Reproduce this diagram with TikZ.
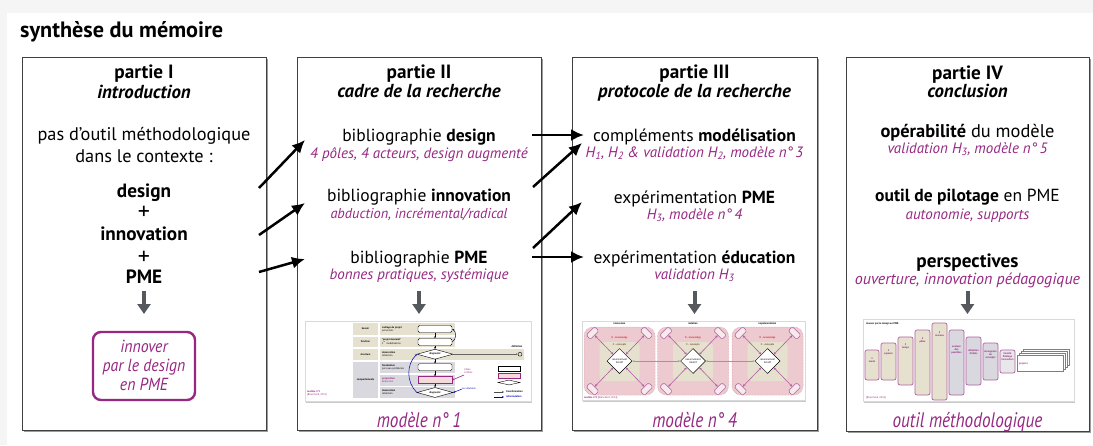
\documentclass[tikz,border=0pt]{standalone}
\usepackage{fontspec}
\setmainfont{PT Sans}
\newfontfamily\capfont{PT Sans}[FakeStretch=0.82]
\newfontfamily\boxfont{PT Sans}[FakeStretch=0.9]
\usetikzlibrary{arrows.meta,shapes.geometric,shadows}
\definecolor{mag}{RGB}{150,40,130}
\definecolor{beige}{RGB}{230,225,207}
\definecolor{lgray}{RGB}{216,216,222}
\definecolor{pinkbg}{RGB}{236,202,207}
\definecolor{pinkline}{RGB}{214,150,165}
\definecolor{arrgray}{RGB}{85,88,92}
\definecolor{thmag}{RGB}{176,96,160}
\definecolor{kred}{RGB}{225,50,40}
\definecolor{cbrown}{RGB}{120,90,40}
\begin{document}
\begin{tikzpicture}[x=1pt,y=-1pt,
  panel/.style={draw=black!75,fill=white,line width=0.8pt,inner sep=0pt,anchor=north west,
    drop shadow={shadow xshift=2pt,shadow yshift=-2pt,opacity=0.55,fill=black!70}},
  hd/.style={anchor=base,inner sep=0pt,font=\fontsize{19.2}{21}\selectfont\bfseries},
  hdi/.style={anchor=base,inner sep=0pt,font=\fontsize{18.8}{21}\selectfont\bfseries\itshape},
  body/.style={anchor=base,inner sep=0pt,font=\fontsize{17.5}{20}\selectfont},
  plus/.style={anchor=base,inner sep=0pt,font=\fontsize{24}{26}\selectfont},
  sub/.style={anchor=base,inner sep=0pt,text=mag,font=\fontsize{15}{17}\selectfont\itshape},
  capt/.style={anchor=base,inner sep=0pt,text=mag,font=\capfont\fontsize{21}{23}\selectfont\itshape},
  boxt/.style={anchor=base,inner sep=0pt,text=mag,font=\boxfont\fontsize{17.5}{19}\selectfont\itshape},
  link/.style={line width=2.5pt,-{Latex[length=13pt,width=12pt]}},
  down/.style={arrgray,line width=4pt,-{Triangle[length=10pt,width=13pt]}},
  tiny/.style={inner sep=0pt,font=\fontsize{2.6}{3}\selectfont},
  card/.style={fill=white,draw=black!15,line width=0.4pt,inner sep=0pt,anchor=north west,
    drop shadow={shadow xshift=1pt,shadow yshift=-1.5pt,opacity=0.35,fill=black!60}},
  sm/.style={-{Stealth[length=2pt,width=1.8pt]},line width=0.35pt},
  col/.style={draw=thmag,line width=0.7pt,rounded corners=2pt,inner sep=0pt},
]
% page background
\fill[black!4] (0,0) rectangle (1093,445);
\fill[white] (7,13) rectangle (1093,445);
\useasboundingbox (0,0) rectangle (1093,445);

% title
\node[anchor=base west,inner sep=0pt,font=\fontsize{22.2}{25}\selectfont\bfseries] (title) at (20,37) {synthèse du mémoire};

% panels
\node[panel,minimum width=244pt,minimum height=373pt] (P1) at (22,57) {};
\node[panel,minimum width=244pt,minimum height=373pt] (P2) at (297,57) {};
\node[panel,minimum width=245pt,minimum height=373pt] (P3) at (572,57) {};
\node[panel,minimum width=243pt,minimum height=374pt] (P4) at (846,57) {};

% ---------- panel I
\node[hd] (p1a) at (144,78) {partie I};
\node[hdi] (p1b) at (144,98) {introduction};
\node[body,font=\fontsize{18.3}{20}\selectfont] (p1c) at (144,140) {pas d’outil méthodologique};
\node[body,font=\fontsize{18.3}{20}\selectfont] (p1d) at (144,162) {dans le contexte :};
\node[hd] (p1e) at (144,197) {design};
\node[plus] (p1f) at (144,219) {+};
\node[hd] (p1g) at (144,240) {innovation};
\node[plus] (p1h) at (144,264) {+};
\node[hd] (p1i) at (144,283) {PME};
\coordinate (d1s) at (144,291);
\coordinate (d1e) at (144,314);
\draw[down] (d1s) -- (d1e);
\node[draw=mag,line width=2.4pt,rounded corners=8pt,minimum width=102pt,minimum height=68pt,inner sep=0pt] (p1box) at (144,366) {};
\node[boxt] (p1j) at (144,352) {innover};
\node[boxt] (p1k) at (144,371) {par le design};
\node[boxt] (p1l) at (144,390) {en PME};

% ---------- panel II
\node[hd] (p2a) at (419,78) {partie II};
\node[hdi] (p2b) at (419,97) {cadre de la recherche};
\node[body] (p2c) at (419,141) {bibliographie \textbf{design}};
\node[sub] (p2d) at (419,158) {4 pôles, 4 acteurs, design augmenté};
\node[body] (p2e) at (419,201) {bibliographie \textbf{innovation}};
\node[sub,font=\fontsize{14.3}{17}\selectfont\itshape] (p2f) at (419,218) {abduction, incrémental/radical};
\node[body] (p2g) at (419,263) {bibliographie \textbf{PME}};
\node[sub] (p2h) at (419,279) {bonnes pratiques, systémique};
\coordinate (d2s) at (419,291);
\coordinate (d2e) at (419,314);
\draw[down] (d2s) -- (d2e);
\node[capt] (p2cap) at (419,427) {modèle n°\,1};

% ---------- panel III
\node[hd] (p3a) at (694.5,78) {partie III};
\node[hdi] (p3b) at (694.5,97) {protocole de la recherche};
\node[body] (p3c) at (694.5,141) {compléments \textbf{modélisation}};
\node[sub] (p3d) at (694.5,157) {H\textsubscript{1}, H\textsubscript{2} \& validation H\textsubscript{2}, modèle n°\,3};
\node[body] (p3e) at (694.5,203) {expérimentation \textbf{PME}};
\node[sub] (p3f) at (694.5,219) {H\textsubscript{3}, modèle n°\,4};
\node[body] (p3g) at (694.5,263) {expérimentation \textbf{éducation}};
\node[sub] (p3h) at (694.5,279) {validation H\textsubscript{3}};
\coordinate (d3s) at (694.5,291);
\coordinate (d3e) at (694.5,314);
\draw[down] (d3s) -- (d3e);
\node[capt] (p3cap) at (694.5,427) {modèle n°\,4};

% ---------- panel IV
\node[hd] (p4a) at (967.5,79) {partie IV};
\node[hdi] (p4b) at (967.5,97) {conclusion};
\node[body,font=\fontsize{18.4}{20}\selectfont] (p4c) at (967.5,137) {\textbf{opérabilité} du modèle};
\node[sub] (p4d) at (967.5,153) {validation H\textsubscript{3}, modèle n°\,5};
\node[body] (p4e) at (967.5,201) {\textbf{outil de pilotage} en PME};
\node[sub] (p4f) at (967.5,219) {autonomie, supports};
\node[hd] (p4g) at (967.5,267) {perspectives};
\node[sub,font=\fontsize{16}{17}\selectfont\itshape] (p4h) at (967.5,284) {ouverture, innovation pédagogique};
\coordinate (d4s) at (967.5,291);
\coordinate (d4e) at (967.5,314);
\draw[down] (d4s) -- (d4e);
\node[capt] (p4cap) at (967.5,427) {outil méthodologique};

% ---------- links
\coordinate (a1s) at (259,188); \coordinate (a1e) at (305,140);
\coordinate (a2s) at (259,235); \coordinate (a2e) at (305,203);
\coordinate (a3s) at (259,272); \coordinate (a3e) at (305,259);
\draw[link] (a1s) -- (a1e);
\draw[link] (a2s) -- (a2e);
\draw[link] (a3s) -- (a3e);
\coordinate (b1s) at (532,135); \coordinate (b1e) at (584,135);
\coordinate (b2s) at (533,187); \coordinate (b2e) at (582,143);
\coordinate (b3s) at (533,248); \coordinate (b3e) at (582,202);
\coordinate (b4s) at (532,257); \coordinate (b4e) at (584,257);
\draw[link] (b1s) -- (b1e);
\draw[link] (b2s) -- (b2e);
\draw[link] (b3s) -- (b3e);
\draw[link] (b4s) -- (b4e);

% ---------- thumbnail 1 : modele n 1
\node[card,minimum width=226pt,minimum height=80pt] (T1) at (305,321) {};
\fill[beige] (353,323) rectangle (378,335);
\fill[beige] (353,336.5) rectangle (378,347);
\fill[beige] (353,348.5) rectangle (378,360);
\fill[lgray] (353,361.5) rectangle (378,398);
\fill[beige] (380,323) rectangle (455,335);
\fill[beige] (380,336.5) rectangle (455,347);
\fill[beige] (380,348.5) rectangle (524,360);
\fill[lgray] (380,361.5) rectangle (455,373);
\fill[lgray] (380,374.5) rectangle (455,385.5);
\fill[lgray] (380,387) rectangle (455,398);
\node[tiny] (t1a) at (365.5,329) {\bfseries besoin};
\node[tiny] (t1b) at (365.5,341.7) {\bfseries fonction};
\node[tiny] (t1c) at (365.5,354.2) {\bfseries structure};
\node[tiny] (t1d) at (365.5,379.7) {\bfseries comportements};
\node[tiny,anchor=west,align=left] (t1e) at (382,329) {\bfseries cadrage du projet\\{}prévisions};
\node[tiny,anchor=west,align=left] (t1f) at (382,341.7) {\bfseries “projet maximal”\\{}1\textsuperscript{re} modélisation};
\node[tiny,anchor=west,align=left] (t1g) at (382,354.2) {\bfseries observation\\{}détection};
\node[tiny,anchor=west,align=left] (t1h) at (382,367.2) {\bfseries focalisation\\{}par sous-problèmes};
\node[tiny,anchor=west,align=left,text=mag] (t1i) at (382,380) {\bfseries proposition\\{}abduction};
\node[tiny,anchor=west,align=left] (t1j) at (382,392.5) {\bfseries observation\\{}détection};
\node[draw,fill=white,rounded corners=1.5pt,minimum width=34pt,minimum height=7pt,inner sep=0pt,line width=0.4pt] (m1) at (435,329) {};
\node[draw,fill=white,rounded corners=1.5pt,minimum width=34pt,minimum height=7pt,inner sep=0pt,line width=0.4pt] (m2) at (435,342) {};
\node[draw,fill=white,diamond,aspect=3.6,minimum width=36pt,minimum height=10pt,inner sep=0pt,line width=0.4pt] (m3) at (435,354.2) {};
\node[draw,fill=white,rounded corners=1.5pt,minimum width=34pt,minimum height=7pt,inner sep=0pt,line width=0.4pt] (m4) at (435,367.2) {};
\node[draw=mag,fill=pinkbg!70,minimum width=34pt,minimum height=7pt,inner sep=0pt,line width=0.5pt] (m5) at (435,380) {};
\node[draw,fill=white,diamond,aspect=3.6,minimum width=36pt,minimum height=10pt,inner sep=0pt,line width=0.4pt] (m6) at (435,392.5) {};
\node[tiny] (m3t) at (435,354.2) {\bfseries diagnostic};
\node[tiny] (m6t) at (435,392.5) {\bfseries diagnostic};
\draw[sm] (m1) -- (m2);
\draw[sm] (m2) -- (m3);
\draw[sm] (m3) -- (m4);
\draw[sm] (m4) -- (m5);
\draw[sm] (m5) -- (m6);
\draw[sm,blue!70!black,line width=0.5pt] (m6.west) to[bend left=45] (m3.west);
\draw[sm,blue!70!black,line width=0.5pt] (m2.east) to[bend right=60] (m1.east);
\coordinate (bl1) at (462,389);
\draw[sm,blue!70!black,line width=0.5pt] (bl1) -- (m6.east);
\node[tiny,anchor=west,text=blue!70!black] (bl1t) at (462,389) {ou solutions};
\coordinate (mg1) at (464,375);
\draw[sm,mag,line width=0.6pt] (mg1) -- (m5.east);
\node[tiny,anchor=south west,text=mag,align=left] (mg1t) at (464,374) {cibles\\{}critères};
\node[draw,circle,minimum size=4pt,inner sep=0pt,line width=0.4pt] (c0) at (520,354.2) {};
\draw[sm,black!60] (m3.east) -- (c0.west);
\node[tiny] (c0t) at (517,347) {\bfseries définition};
\node[draw,fill=white,minimum width=22pt,minimum height=4.5pt,inner sep=0pt,line width=0.4pt] (lg1) at (509,368.5) {};
\node[draw=mag,fill=pinkbg!70,minimum width=22pt,minimum height=4.5pt,inner sep=0pt,line width=0.4pt] (lg2) at (509,375.5) {};
\node[draw,fill=white,diamond,aspect=4,minimum width=22pt,minimum height=5pt,inner sep=0pt,line width=0.4pt] (lg3) at (509,382.5) {};
\coordinate (lga1) at (494,392); \coordinate (lga2) at (504,392);
\coordinate (lgb1) at (494,397); \coordinate (lgb2) at (504,397);
\draw[sm,black!70] (lga1) -- (lga2);
\draw[sm,blue!70!black] (lgb1) -- (lgb2);
\node[tiny,anchor=west] (lgat) at (506,392) {\bfseries transformation};
\node[tiny,anchor=west,text=blue!70!black] (lgbt) at (506,397) {\bfseries reformulation};
\node[tiny,anchor=west,text=mag,align=left] (t1n) at (307,393.5) {\bfseries modèle n°1\\{}[Blanchard, 2011]};

% ---------- thumbnail 2 : modele n 4
\node[card,minimum width=223pt,minimum height=79pt] (T2) at (582,321) {};
\foreach \i/\cx/\lab in {1/619.5/immersion,2/693/idéation,3/767.5/implémentation}{
  \node[fill=pinkbg,draw=pinkline,densely dotted,line width=0.5pt,rounded corners=9pt,minimum width=71pt,minimum height=68pt,inner sep=0pt] (sq\i) at (\cx,361) {};
  \node[fill=beige,rounded corners=4pt,minimum width=40pt,minimum height=39pt,inner sep=0pt] (in\i) at (\cx,361.5) {};
  \node[tiny] (lab\i) at (\cx,324) {\bfseries \lab};
  \node[tiny,text=kred] (kk\i) at (\cx,338) {\bfseries K - knowledge};
  \node[tiny,text=cbrown] (cc\i) at (\cx,344.5) {\bfseries C - concepts};
  \node[diamond,draw,fill=white,minimum width=25pt,minimum height=25pt,inner sep=0pt,line width=0.5pt] (dm\i) at (\cx,361) {};
  \node[tiny,align=center] (dmt\i) at (\cx,361) {raisonnement\\{}itératif};
  \node[draw=thmag,fill=pinkbg!40,rounded corners=1.5pt,minimum width=12pt,minimum height=6pt,inner sep=0pt,rotate=45,line width=0.6pt] (pa\i) at (\cx-27,333) {};
  \node[draw=thmag,fill=pinkbg!40,rounded corners=1.5pt,minimum width=12pt,minimum height=6pt,inner sep=0pt,rotate=-45,line width=0.6pt] (pb\i) at (\cx+27,333) {};
  \node[draw=thmag,fill=pinkbg!40,rounded corners=1.5pt,minimum width=12pt,minimum height=6pt,inner sep=0pt,rotate=-45,line width=0.6pt] (pc\i) at (\cx-27,389) {};
  \node[draw=thmag,fill=pinkbg!40,rounded corners=1.5pt,minimum width=12pt,minimum height=6pt,inner sep=0pt,rotate=45,line width=0.6pt] (pd\i) at (\cx+27,389) {};
  \draw[thmag,line width=0.6pt,{Stealth[length=2.5pt,width=2.5pt]}-{Stealth[length=2.5pt,width=2.5pt]}] (dm\i) -- (pa\i);
  \draw[thmag,line width=0.6pt,{Stealth[length=2.5pt,width=2.5pt]}-{Stealth[length=2.5pt,width=2.5pt]}] (dm\i) -- (pb\i);
  \draw[thmag,line width=0.6pt,{Stealth[length=2.5pt,width=2.5pt]}-{Stealth[length=2.5pt,width=2.5pt]}] (dm\i) -- (pc\i);
  \draw[thmag,line width=0.6pt,{Stealth[length=2.5pt,width=2.5pt]}-{Stealth[length=2.5pt,width=2.5pt]}] (dm\i) -- (pd\i);
}
\draw[black!40,line width=0.6pt,{Stealth[length=2.2pt]}-{Stealth[length=2.2pt]}] (dm1.east) -- (dm2.west);
\draw[black!40,line width=0.6pt,{Stealth[length=2.2pt]}-{Stealth[length=2.2pt]}] (dm2.east) -- (dm3.west);
\node[tiny,anchor=west,text=mag] (t2n) at (584,397.8) {\bfseries modèle n°4 \mdseries [Blanchard, 2014]};

% ---------- thumbnail 3 : outil methodologique
\node[card,minimum width=211pt,minimum height=82pt] (T3) at (863,319) {};
\node[tiny,anchor=west] (t3t) at (866,323.5) {\bfseries innover par le design en PME};
\node[col,fill=beige,minimum width=14pt,minimum height=30pt] (k1) at (872,365) {};
\node[col,fill=beige,minimum width=15pt,minimum height=37pt] (k2) at (888.5,361.5) {};
\node[col,fill=beige,minimum width=15pt,minimum height=48pt] (k3) at (905.5,361) {};
\node[col,fill=beige,minimum width=15pt,minimum height=65pt] (k4) at (922.5,362.5) {};
\node[col,fill=beige,minimum width=15pt,minimum height=77pt] (k5) at (939.5,361.5) {};
\node[col,fill=lgray,minimum width=15pt,minimum height=65pt] (k6) at (956.5,362.5) {};
\node[col,fill=lgray,minimum width=15pt,minimum height=48pt] (k7) at (973.5,361) {};
\node[col,fill=lgray,minimum width=15pt,minimum height=37pt] (k8) at (990.5,361.5) {};
\node[col,fill=lgray!60,minimum width=15pt,minimum height=23pt] (k9) at (1007.5,361.5) {};
\node[tiny,text=mag,align=center] (k1t) at (872,360) {\bfseries 1\\{}\bfseries mode};
\node[tiny,text=mag,align=center] (k2t) at (888.5,352) {\bfseries 2\\{}\bfseries espaces};
\node[tiny,text=mag,align=center] (k3t) at (905.5,346) {\bfseries 3\\{}\bfseries temps};
\node[tiny,text=mag,align=center] (k4t) at (922.5,340) {\bfseries 4\\{}\bfseries pôles};
\node[tiny,text=mag,align=center] (k5t) at (939.5,334) {\bfseries 5\\{}\bfseries niveaux};
\node[tiny,text=mag,align=center] (k6t) at (956.5,350) {\bfseries examen\\{}\bfseries des\\{}\bfseries possibles};
\node[tiny,text=mag,align=center] (k7t) at (973.5,352) {\bfseries détection\\{}\bfseries d’idées};
\node[tiny,text=mag,align=center] (k8t) at (990.5,355) {\bfseries émergence\\{}\bfseries de\\{}\bfseries concepts};
\node[tiny,text=mag,align=center] (k9t) at (1007.5,357) {\bfseries Comité\\{}\bfseries Pilotage\\{}\bfseries Innovation};
\foreach \k in {3,2,1}{
  \node[draw=thmag,fill=white,line width=0.6pt,minimum width=46pt,minimum height=16pt,inner sep=0pt] (pj\k) at (1040+2*\k,363.5-2*\k) {};
}
\node[draw=thmag,fill=white,line width=0.6pt,minimum width=46pt,minimum height=16pt,inner sep=0pt] (pj0) at (1040,363.5) {};
\node[tiny,anchor=west,text=mag] (pjt) at (1019,363.5) {\bfseries projet n};
\node[tiny,anchor=west,text=mag] (t3n) at (866,398) {[Blanchard, 2014]};
\end{tikzpicture}
\end{document}
